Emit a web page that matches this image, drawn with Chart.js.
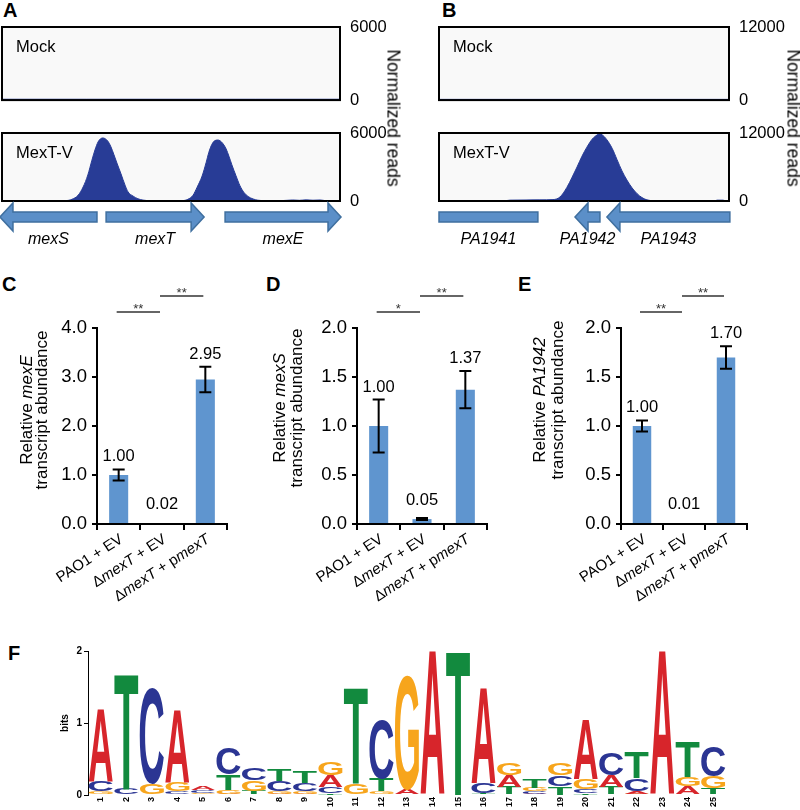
<!DOCTYPE html>
<html>
<head>
<meta charset="utf-8">
<script src="https://cdn.jsdelivr.net/npm/chart.js@4.4.1/dist/chart.umd.min.js"></script>
<style>
  body { margin: 0; background: #fff; width: 800px; height: 810px; position: relative; overflow: hidden;
         font-family: Arial, "Liberation Sans", Helvetica, sans-serif; color: #000; }
  .box { position: absolute; }
  .box canvas { display: block; }
  .tag { position: absolute; font-weight: bold; font-size: 20px; line-height: 20px; }
  .side { position: absolute; font-size: 17.5px; white-space: nowrap; color: #000;
          transform: translate(-50%, -50%) rotate(90deg); }
</style>
</head>
<body>
<div class="tag" style="left:3px;top:0px">A</div>
<div class="tag" style="left:442px;top:0px">B</div>
<div class="tag" style="left:2px;top:274px">C</div>
<div class="tag" style="left:266px;top:274px">D</div>
<div class="tag" style="left:518px;top:274px">E</div>
<div class="tag" style="left:8px;top:643px">F</div>

<div class="box" style="left:0;top:0"><canvas id="mockA" width="400" height="112"></canvas></div>
<div class="box" style="left:0;top:105px"><canvas id="mextA" width="400" height="145"></canvas></div>
<div class="box" style="left:400px;top:0"><canvas id="mockB" width="400" height="112"></canvas></div>
<div class="box" style="left:400px;top:105px"><canvas id="mextB" width="400" height="145"></canvas></div>
<div class="side" style="left:393px;top:118px">Normalized reads</div>
<div class="side" style="left:793px;top:118px">Normalized reads</div>

<div class="box" style="left:0;top:270px"><canvas id="chartC" width="265" height="340"></canvas></div>
<div class="box" style="left:265px;top:270px"><canvas id="chartD" width="265" height="340"></canvas></div>
<div class="box" style="left:530px;top:270px"><canvas id="chartE" width="270" height="340"></canvas></div>

<div class="box" style="left:0;top:625px"><canvas id="logo" width="800" height="185"></canvas></div>

<script>
// ---- coverage tracks (x = position in window, 0..1000) ----
const mockAx = [0, 250, 500, 750, 1000];
const mockAy = [70, 70, 70, 70, 70];
const covAx = [0, 60, 120, 186, 207, 225, 240, 254, 266, 275, 284, 293, 299, 305, 314, 322, 331, 340, 352, 364,
  373, 388, 402, 417, 438, 470, 500, 533, 550, 565, 577, 592, 604, 612, 621, 630, 639, 645, 654, 663,
  672, 680, 692, 704, 716, 728, 743, 757, 778, 810, 843, 860, 880, 900, 920, 941, 960, 1000];
const covAy = [20, 25, 20, 30, 150, 500, 1235, 2300, 3600, 4500, 5200, 5520, 5560, 5500, 5250, 4800, 4100, 3350, 2400, 1400,
  800, 430, 200, 80, 30, 20, 20, 30, 150, 500, 1200, 2200, 3400, 4300, 5000, 5330, 5380, 5320, 5050, 4600,
  3900, 3200, 2250, 1350, 750, 400, 180, 70, 30, 20, 60, 90, 60, 100, 70, 90, 20, 0];

const mockBx = [0, 250, 500, 750, 1000];
const mockBy = [120, 120, 120, 120, 120];
const covBx = [0, 100, 200, 228, 245, 300, 348, 393, 417, 441, 459, 476, 493, 510, 528, 545, 552, 562, 579, 597,
  614, 631, 648, 666, 683, 700, 717, 738, 762, 850, 950, 959, 979, 990, 1000];
const covBy = [0, 0, 0, 40, 150, 180, 200, 250, 700, 2400, 4200, 6000, 7900, 9500, 10900, 11650, 11820, 11700, 10800, 9300,
  7300, 5300, 3700, 2300, 1300, 600, 200, 50, 20, 20, 20, 150, 150, 20, 0];

const genesA = ['mexS', 'mexT', 'mexE'];
const geneStartA = [-6, 308, 660];
const geneEndA = [281, 598, 1003];
const geneStrandA = [-1, 1, 1];

const genesB = ['PA1941', 'PA1942', 'PA1943'];
const geneStartB = [0, 469, 579];
const geneEndB = [341, 555, 1003];
const geneStrandB = [0, -1, -1];

// ---- qPCR bars ----
const groups = ['PAO1 + EV', 'ΔmexT + EV', 'ΔmexT + pmexT'];
const mexE = [1.00, 0.02, 2.95];
const mexEErr = [0.11, 0, 0.26];
const mexS = [1.00, 0.05, 1.37];
const mexSErr = [0.27, 0.01, 0.19];
const pa1942 = [1.00, 0.01, 1.70];
const pa1942Err = [0.055, 0, 0.115];
const sigC = ['**', '**'];
const sigD = ['*', '**'];
const sigE = ['**', '**'];

// ---- motif logo (bits per position) ----
const logoPos = ['1', '2', '3', '4', '5', '6', '7', '8', '9', '10', '11', '12', '13',
  '14', '15', '16', '17', '18', '19', '20', '21', '22', '23', '24', '25'];
const bitsA = [1.00, 0.00, 0.00, 1.01, 0.06, 0.02, 0.01, 0.02, 0.02, 0.16, 0.00, 0.01, 0.08,
  1.99, 0.00, 1.32, 0.16, 0.02, 0.00, 0.82, 0.16, 0.04, 1.99, 0.11, 0.01];
const bitsC = [0.14, 0.09, 1.33, 0.05, 0.04, 0.36, 0.16, 0.15, 0.10, 0.09, 0.00, 0.82, 0.00,
  0.00, 0.00, 0.14, 0.01, 0.03, 0.15, 0.06, 0.31, 0.17, 0.00, 0.01, 0.42];
const bitsG = [0.05, 0.00, 0.15, 0.12, 0.02, 0.05, 0.14, 0.03, 0.04, 0.18, 0.16, 0.04, 1.59,
  0.00, 0.00, 0.01, 0.17, 0.05, 0.17, 0.14, 0.01, 0.02, 0.00, 0.13, 0.17];
const bitsT = [0.00, 1.59, 0.00, 0.00, 0.01, 0.21, 0.05, 0.16, 0.16, 0.02, 1.32, 0.17, 0.00,
  0.00, 1.99, 0.01, 0.10, 0.12, 0.12, 0.02, 0.10, 0.35, 0.00, 0.48, 0.08];

const FONT = 'Arial, "Liberation Sans", Helvetica, sans-serif';
const NAVY = '#283c96';
const BAR = '#5f95cf';
const GENE_FILL = '#5b8fc8';
const GENE_LINE = '#3f6f9f';
const BASE_COLORS = { A: '#d7252b', C: '#2b3593', G: '#f7a51c', T: '#128a3e' };
const ITALIC = /^(mexE|mexS|mexT|PA1942)$/;

Chart.defaults.font.family = FONT;
Chart.defaults.color = '#000';
Chart.defaults.animation = false;
Chart.defaults.plugins.legend.display = false;
Chart.defaults.plugins.tooltip.enabled = false;

function italicParts(text) {
  return text.split(/(mexE|mexS|mexT|PA1942)/).filter(s => s).map(s => [s, ITALIC.test(s)]);
}

function drawRich(ctx, parts, x, y, size, align) {
  let w = 0;
  parts.forEach(([t, it]) => {
    ctx.font = (it ? 'italic ' : '') + size + 'px ' + FONT;
    w += ctx.measureText(t).width;
  });
  let cx = align === 'right' ? x - w : align === 'center' ? x - w / 2 : x;
  ctx.textAlign = 'left';
  parts.forEach(([t, it]) => {
    ctx.font = (it ? 'italic ' : '') + size + 'px ' + FONT;
    ctx.fillText(t, cx, y);
    cx += ctx.measureText(t).width;
  });
}

// light box, black frame and track name
function trackFrame(label) {
  return {
    id: 'frame',
    beforeDatasetsDraw(chart) {
      const a = chart.chartArea, ctx = chart.ctx;
      ctx.save();
      ctx.fillStyle = '#f9f9f9';
      ctx.fillRect(a.left, a.top, a.width, a.height);
      ctx.restore();
    },
    afterDatasetsDraw(chart) {
      const a = chart.chartArea, ctx = chart.ctx;
      ctx.save();
      ctx.strokeStyle = '#000';
      ctx.lineWidth = 2;
      ctx.strokeRect(a.left, a.top, a.width, a.height);
      ctx.fillStyle = '#000';
      ctx.font = '16.5px ' + FONT;
      ctx.textBaseline = 'middle';
      ctx.fillText(label, a.left + 14, a.top + 20);
      ctx.restore();
    }
  };
}

// gene arrows under the track, placed with the x scale
function geneTrack(genes) {
  return {
    id: 'genes',
    afterDraw(chart) {
      if (!genes) return;
      const ctx = chart.ctx, xs = chart.scales.x;
      const yc = chart.chartArea.bottom + 16;
      ctx.save();
      genes.names.forEach((name, i) => {
        const x1 = xs.getPixelForValue(genes.start[i]);
        const x2 = xs.getPixelForValue(genes.end[i]);
        const s = genes.strand[i];
        const body = 5, head = 14, hl = 13;
        ctx.beginPath();
        if (s === 1) {
          ctx.moveTo(x1, yc - body); ctx.lineTo(x2 - hl, yc - body); ctx.lineTo(x2 - hl, yc - head);
          ctx.lineTo(x2, yc); ctx.lineTo(x2 - hl, yc + head); ctx.lineTo(x2 - hl, yc + body); ctx.lineTo(x1, yc + body);
        } else if (s === -1) {
          ctx.moveTo(x2, yc - body); ctx.lineTo(x1 + hl, yc - body); ctx.lineTo(x1 + hl, yc - head);
          ctx.lineTo(x1, yc); ctx.lineTo(x1 + hl, yc + head); ctx.lineTo(x1 + hl, yc + body); ctx.lineTo(x2, yc + body);
        } else {
          ctx.rect(x1, yc - body, x2 - x1, body * 2);
        }
        ctx.closePath();
        ctx.fillStyle = GENE_FILL;
        ctx.fill();
        ctx.strokeStyle = GENE_LINE;
        ctx.lineWidth = 1.5;
        ctx.stroke();
        ctx.fillStyle = '#000';
        ctx.font = 'italic 16px ' + FONT;
        ctx.textAlign = 'center';
        ctx.textBaseline = 'middle';
        const xm = (Math.max(x1, 0) + x2) / 2;
        ctx.fillText(name, xm, chart.chartArea.bottom + 39);
      });
      ctx.restore();
    }
  };
}

function trackChart(id, xs, ys, maxY, label, padLeft, axisW, genes) {
  return new Chart(document.getElementById(id), {
    type: 'line',
    data: {
      datasets: [{
        data: xs.map((x, i) => ({ x: x, y: ys[i] })),
        borderColor: NAVY,
        backgroundColor: NAVY,
        borderWidth: 1,
        pointRadius: 0,
        fill: 'origin',
        cubicInterpolationMode: 'monotone'
      }]
    },
    options: {
      responsive: false,
      layout: { padding: { left: padLeft, right: 0, top: genes ? 28 : 27, bottom: genes ? 49 : 10 } },
      scales: {
        x: { type: 'linear', min: 0, max: 1000, display: false },
        y: {
          position: 'right', min: 0, max: maxY,
          grid: { display: false }, border: { display: false },
          ticks: { stepSize: maxY, padding: 2, font: { size: 16.5 }, callback: (v) => String(v) },
          afterFit: (s) => { s.width = axisW; }
        }
      }
    },
    plugins: [trackFrame(label), geneTrack(genes)]
  });
}

trackChart('mockA', mockAx, mockAy, 6000, 'Mock', 2, 60, null);
trackChart('mextA', covAx, covAy, 6000, 'MexT-V', 2, 60,
  { names: genesA, start: geneStartA, end: geneEndA, strand: geneStrandA });
trackChart('mockB', mockBx, mockBy, 12000, 'Mock', 39, 71, null);
trackChart('mextB', covBx, covBy, 12000, 'MexT-V', 39, 71,
  { names: genesB, start: geneStartB, end: geneEndB, strand: geneStrandB });

// error bars, values, significance lines, rich axis texts
function barDecor(cfg) {
  return {
    id: 'decor',
    afterDatasetsDraw(chart) {
      const ctx = chart.ctx, xs = chart.scales.x, ys = chart.scales.y, a = chart.chartArea;
      ctx.save();
      cfg.vals.forEach((v, i) => {
        const cx = xs.getPixelForValue(i);
        const e = cfg.errs[i];
        const top = ys.getPixelForValue(v + e);
        if (e > 0) {
          const bot = ys.getPixelForValue(v - e);
          ctx.strokeStyle = '#000';
          ctx.lineWidth = 2;
          ctx.beginPath();
          ctx.moveTo(cx, top); ctx.lineTo(cx, bot);
          ctx.moveTo(cx - 6, top); ctx.lineTo(cx + 6, top);
          ctx.moveTo(cx - 6, bot); ctx.lineTo(cx + 6, bot);
          ctx.stroke();
        }
        ctx.fillStyle = '#000';
        ctx.font = '16.5px ' + FONT;
        ctx.textAlign = 'center';
        ctx.textBaseline = 'bottom';
        ctx.fillText(v.toFixed(2), cx, Math.min(top, ys.getPixelForValue(v) - 6) - 4);
      });
      // significance
      cfg.sig.forEach((s, k) => {
        const y = a.top - 16 - 16 * k;
        const x1 = xs.getPixelForValue(k) - 2, x2 = xs.getPixelForValue(k + 1) - 2;
        ctx.strokeStyle = '#333';
        ctx.lineWidth = 1.5;
        ctx.beginPath(); ctx.moveTo(x1, y); ctx.lineTo(x2, y); ctx.stroke();
        ctx.fillStyle = '#333';
        ctx.font = '13px ' + FONT;
        ctx.textAlign = 'center';
        ctx.textBaseline = 'alphabetic';
        ctx.fillText(s, (x1 + x2) / 2, y + 1);
      });
      // x labels
      ctx.fillStyle = '#000';
      ctx.textBaseline = 'middle';
      groups.forEach((g, i) => {
        const cx = xs.getPixelForValue(i);
        ctx.save();
        ctx.translate(cx + 3, a.bottom + 14);
        ctx.rotate(-33 * Math.PI / 180);
        drawRich(ctx, italicParts(g), 0, 0, 15, 'right');
        ctx.restore();
      });
      // y title (two lines)
      const yc = cfg.titleY;
      [cfg.title, 'transcript abundance'].forEach((t, k) => {
        ctx.save();
        ctx.translate(a.left + cfg.titleOff[k], yc);
        ctx.rotate(-Math.PI / 2);
        drawRich(ctx, italicParts(t), 0, 0, 17, 'center');
        ctx.restore();
      });
      ctx.restore();
    }
  };
}

function barChart(id, vals, errs, title, yMax, yStep, sig, axisW, padRight, titleOff, titleY) {
  return new Chart(document.getElementById(id), {
    type: 'bar',
    data: {
      labels: groups,
      datasets: [{ data: vals, backgroundColor: BAR, barPercentage: 0.44, categoryPercentage: 1 }]
    },
    options: {
      responsive: false,
      layout: { padding: { left: 0, right: padRight, top: 58, bottom: 0 } },
      scales: {
        x: {
          grid: { offset: true, drawOnChartArea: false, color: '#000', lineWidth: 2, tickLength: 6 },
          border: { color: '#000', width: 2 },
          ticks: { display: false },
          afterFit: (s) => { s.height = 86; }
        },
        y: {
          min: 0, max: yMax,
          grid: { drawOnChartArea: false, color: '#000', lineWidth: 2, tickLength: 5 },
          border: { color: '#000', width: 2 },
          ticks: { stepSize: yStep, padding: 5, font: { size: 18.5 }, callback: (v) => v.toFixed(1) },
          afterFit: (s) => { s.width = axisW; }
        }
      }
    },
    plugins: [barDecor({ vals, errs, sig, title, titleOff, titleY })]
  });
}

barChart('chartC', mexE, mexEErr, 'Relative mexE', 4, 1, sigC, 97, 38, [-70, -55], 140);
barChart('chartD', mexS, mexSErr, 'Relative mexS', 2, 0.5, sigD, 92, 43, [-77, -60], 138);
barChart('chartE', pa1942, pa1942Err, 'Relative PA1942', 2, 0.5, sigE, 91, 53, [-81, -63], 130);

// ---- sequence logo: stack letters by height, smallest at the bottom ----
const rankVals = [[], [], [], []];
const rankLetters = [[], [], [], []];
logoPos.forEach((p, i) => {
  const col = [['A', bitsA[i]], ['C', bitsC[i]], ['G', bitsG[i]], ['T', bitsT[i]]]
    .sort((a, b) => a[1] - b[1]);
  col.forEach(([L, v], r) => { rankVals[r].push(v); rankLetters[r].push(L); });
});

const glyphs = {};
function glyphBox(ctx, L) {
  if (!glyphs[L]) {
    ctx.font = 'bold 200px ' + FONT;
    const m = ctx.measureText(L);
    glyphs[L] = { l: m.actualBoundingBoxLeft, r: m.actualBoundingBoxRight,
                  a: m.actualBoundingBoxAscent, d: m.actualBoundingBoxDescent };
  }
  return glyphs[L];
}

const logoLetters = {
  id: 'letters',
  afterDatasetsDraw(chart) {
    const ctx = chart.ctx, a = chart.chartArea, xs = chart.scales.x;
    chart.data.datasets.forEach((ds, d) => {
      chart.getDatasetMeta(d).data.forEach((bar, i) => {
        const p = bar.getProps(['x', 'y', 'base', 'width'], true);
        const h = p.base - p.y;
        if (h < 0.4) return;
        const L = rankLetters[d][i];
        const g = glyphBox(ctx, L);
        ctx.save();
        ctx.translate(p.x - p.width / 2, p.y);
        ctx.scale(p.width / (g.l + g.r), h / (g.a + g.d));
        ctx.font = 'bold 200px ' + FONT;
        ctx.textAlign = 'left';
        ctx.textBaseline = 'alphabetic';
        ctx.fillStyle = BASE_COLORS[L];
        ctx.fillText(L, g.l, g.a);
        ctx.restore();
      });
    });
    ctx.save();
    ctx.fillStyle = '#000';
    // position numbers, read bottom to top
    ctx.font = 'bold 9px ' + FONT;
    ctx.textAlign = 'right';
    ctx.textBaseline = 'middle';
    logoPos.forEach((p, i) => {
      ctx.save();
      ctx.translate(xs.getPixelForValue(i), a.bottom + 2);
      ctx.rotate(-Math.PI / 2);
      ctx.fillText(p, 0, 0);
      ctx.restore();
    });
    ctx.translate(a.left - 23, (a.top + a.bottom) / 2);
    ctx.rotate(-Math.PI / 2);
    ctx.font = 'bold 10px ' + FONT;
    ctx.textAlign = 'center';
    ctx.fillText('bits', 0, 0);
    ctx.restore();
  }
};

new Chart(document.getElementById('logo'), {
  type: 'bar',
  data: {
    labels: logoPos,
    datasets: rankVals.map(v => ({
      data: v, backgroundColor: 'rgba(0,0,0,0)', barPercentage: 0.94, categoryPercentage: 1, stack: 's'
    }))
  },
  options: {
    responsive: false,
    layout: { padding: { left: 0, right: 74, top: 26, bottom: 0 } },
    scales: {
      x: {
        stacked: true,
        grid: { display: false }, border: { display: false },
        ticks: { display: false },
        afterFit: (s) => { s.height = 15; }
      },
      y: {
        stacked: true, min: 0, max: 2,
        grid: { drawOnChartArea: false, color: '#000', tickLength: 4 },
        border: { color: '#000', width: 1 },
        ticks: { stepSize: 1, padding: 2, font: { size: 10, weight: 'bold' } },
        afterFit: (s) => { s.width = 88; }
      }
    }
  },
  plugins: [logoLetters]
});
</script>
</body>
</html>
